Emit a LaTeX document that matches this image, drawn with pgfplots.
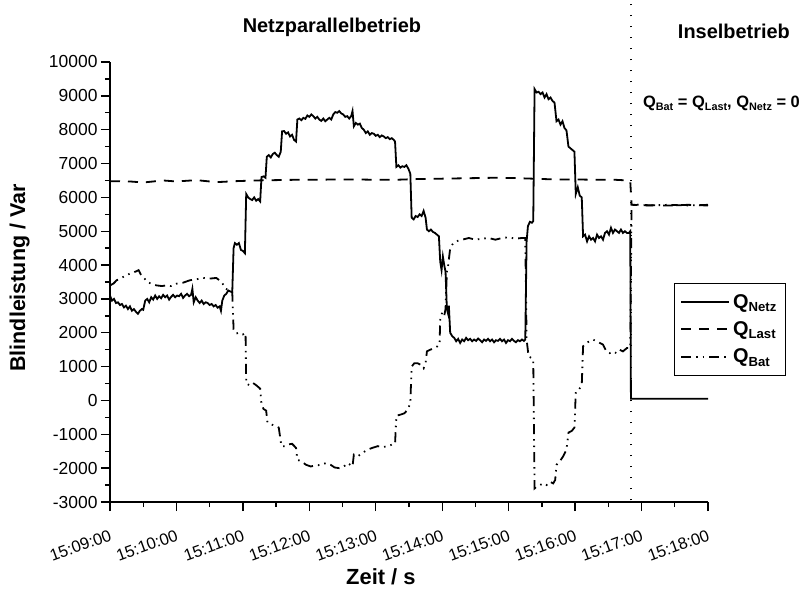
\documentclass[border=0pt]{standalone}
\usepackage{graphicx}
\usepackage{fontspec}
\setmainfont{Liberation Sans}
\usepackage{pgfplots}
\pgfplotsset{compat=1.18}

\newcommand{\Q}[1]{Q\raisebox{-0.32ex}{\scalebox{0.66}{#1}}}
\pgfplotsset{
  longline/.style={legend image code/.code={\draw[##1] (0bp,0bp) -- (48bp,0bp);}},
}

\begin{document}
\begin{tikzpicture}
\begin{axis}[
    scale only axis,
    width=598bp, height=440bp,
    at={(0,0)}, anchor=south west,
    axis x line*=bottom, axis y line*=left,
    axis line style={line width=1.6bp},
    xmin=0, xmax=9, ymin=-3000, ymax=10000,
    xtick={0,1,...,9},
    xticklabels={15:09:00,15:10:00,15:11:00,15:12:00,15:13:00,15:14:00,15:15:00,15:16:00,15:17:00,15:18:00},
    ytick={-3000,-2000,...,10000},
    scaled y ticks=false,
    minor x tick num=1, minor y tick num=1,
    tick align=outside,
    major tick length=9bp, minor tick length=5bp,
    tick style={line width=1.4bp, black},
    /pgf/number format/assume math mode=true,
    /pgf/number format/1000 sep={},
    yticklabel style={font=\fontsize{17.5}{20}\selectfont},
    xticklabel style={font=\fontsize{16.5}{18}\selectfont, rotate=20, anchor=north east, yshift=-13bp, xshift=-4bp},
    xlabel={\textbf{Zeit / s}},
    ylabel={\textbf{Blindleistung / Var}},
    xlabel style={font=\fontsize{22}{24}\selectfont, at={(axis description cs:0.453,-0.170)}, anchor=center},
    ylabel style={font=\fontsize{21.5}{24}\selectfont, at={(axis description cs:-0.151,0.509)}, anchor=center, rotate=0},
    clip=false,
    longline,
    legend style={at={(rel axis cs:0.943,0.498)}, anchor=north west,
        draw=black, line width=0.8bp, fill=white,
        font=\fontsize{20}{22}\selectfont\bfseries,
        row sep=8bp, inner xsep=6bp, inner ysep=9bp,
        nodes={inner xsep=3bp}},
    legend cell align=left,
]

% Q_Netz
\addplot[black, line width=1.8bp] coordinates {
(0,3100)(0.03,2950)(0.06,3000)(0.09,2880)(0.12,2900)(0.15,2820)(0.18,2850)(0.21,2750)(0.24,2800)(0.27,2700)
(0.3,2780)(0.33,2650)(0.36,2700)(0.39,2620)(0.42,2560)(0.45,2650)(0.48,2700)(0.5,2680)(0.53,2950)(0.56,3000)
(0.59,2900)(0.62,3050)(0.65,2980)(0.68,3100)(0.71,3000)(0.74,3080)(0.77,3020)(0.8,3120)(0.83,3050)(0.86,3100)
(0.89,2980)(0.92,3060)(0.95,3120)(0.98,3050)(1.01,3100)(1.04,3080)(1.07,3150)(1.1,3030)(1.13,3100)(1.16,3150)
(1.19,3080)(1.22,3120)(1.24,3300)(1.26,2900)(1.29,3050)(1.32,2950)(1.35,2880)(1.38,2950)(1.41,2850)(1.44,2900)
(1.47,2880)(1.5,2820)(1.53,2850)(1.56,2780)(1.59,2820)(1.62,2740)(1.65,2780)(1.67,2650)(1.69,2950)(1.72,3100)
(1.75,3150)(1.78,3250)(1.81,3220)(1.84,3200)(1.86,4500)(1.88,4650)(1.91,4600)(1.94,4650)(1.97,4450)(2.0,4420)
(2.03,4350)(2.05,6100)(2.08,6000)(2.11,5950)(2.14,5920)(2.17,6000)(2.2,5900)(2.23,5950)(2.26,5880)(2.28,6600)
(2.31,6620)(2.34,6580)(2.36,7200)(2.39,7250)(2.42,7180)(2.45,7280)(2.48,7320)(2.51,7250)(2.54,7200)(2.57,7350)
(2.59,7950)(2.62,7960)(2.65,7880)(2.68,7920)(2.71,7800)(2.74,7850)(2.77,7700)(2.8,7650)(2.82,8300)(2.85,8330)
(2.88,8280)(2.91,8350)(2.94,8320)(2.97,8420)(3.0,8380)(3.03,8450)(3.06,8400)(3.09,8330)(3.12,8380)(3.15,8300)
(3.18,8260)(3.21,8330)(3.24,8250)(3.27,8300)(3.3,8350)(3.33,8300)(3.36,8450)(3.39,8520)(3.42,8500)(3.45,8550)
(3.48,8480)(3.51,8450)(3.54,8380)(3.57,8400)(3.6,8330)(3.63,8400)(3.65,8550)(3.67,8100)(3.7,8200)(3.73,8150)
(3.76,8180)(3.79,8050)(3.82,8000)(3.85,7900)(3.88,7950)(3.91,7850)(3.94,7900)(3.97,7880)(4.0,7820)(4.03,7850)
(4.06,7780)(4.09,7830)(4.12,7800)(4.15,7750)(4.18,7780)(4.21,7720)(4.24,7750)(4.27,7700)(4.29,7650)(4.31,6900)
(4.34,6950)(4.37,6880)(4.4,6920)(4.43,6900)(4.46,6950)(4.49,6850)(4.52,6700)(4.54,5400)(4.57,5350)(4.6,5450)
(4.63,5420)(4.66,5500)(4.69,5450)(4.72,5600)(4.75,5400)(4.77,5050)(4.8,5000)(4.83,5050)(4.86,4980)(4.89,4950)
(4.92,4900)(4.95,4850)(4.97,4100)(4.99,3850)(5.01,4250)(5.03,4000)(5.05,3800)(5.07,2700)(5.09,2550)(5.1,2800)
(5.12,2000)(5.15,1900)(5.18,1850)(5.21,1750)(5.24,1820)(5.27,1700)(5.3,1800)(5.33,1750)(5.36,1850)(5.39,1780)
(5.42,1820)(5.45,1750)(5.48,1800)(5.51,1760)(5.54,1830)(5.57,1780)(5.6,1720)(5.63,1800)(5.66,1760)(5.69,1820)
(5.72,1750)(5.75,1800)(5.78,1720)(5.81,1780)(5.84,1760)(5.87,1820)(5.9,1750)(5.93,1800)(5.96,1700)(5.99,1780)
(6.02,1750)(6.05,1820)(6.08,1760)(6.11,1720)(6.14,1780)(6.17,1750)(6.2,1800)(6.23,1760)(6.25,1800)(6.27,4700)
(6.29,5150)(6.32,5280)(6.35,5250)(6.37,5300)(6.39,9200)(6.42,9100)(6.45,9120)(6.48,9050)(6.51,9100)(6.54,8950)
(6.57,9050)(6.6,8900)(6.63,8950)(6.66,8850)(6.69,8800)(6.72,8250)(6.75,8300)(6.78,8150)(6.81,8250)(6.84,8050)
(6.87,7980)(6.9,7500)(6.93,7450)(6.96,7400)(6.99,7350)(7.01,6100)(7.04,6300)(7.07,6050)(7.1,6000)(7.12,4850)
(7.15,4900)(7.18,4700)(7.21,4850)(7.24,4750)(7.27,4800)(7.3,4700)(7.33,4900)(7.36,4800)(7.39,4850)(7.42,4750)
(7.45,4950)(7.48,5000)(7.51,4900)(7.54,5100)(7.57,4950)(7.6,5050)(7.63,5000)(7.66,4950)(7.69,5050)(7.72,4950)
(7.75,5000)(7.78,4950)(7.81,4950)(7.83,5000)(7.84,50)(9,50)
};
\addlegendentry{\Q{Netz}}

% Q_Last
\addplot[black, line width=1.8bp, dash pattern=on 10bp off 8bp] coordinates {
(0,6480)(0.3,6470)(0.5,6440)(0.8,6500)(1.0,6470)(1.3,6510)(1.6,6450)(1.9,6480)(2.2,6500)(2.5,6510)
(2.8,6520)(3.1,6520)(3.4,6530)(3.7,6530)(4.0,6520)(4.3,6520)(4.6,6540)(4.9,6550)(5.2,6560)(5.5,6570)
(5.8,6580)(6.1,6570)(6.4,6550)(6.7,6530)(7.0,6530)(7.3,6520)(7.6,6520)(7.8,6500)(7.83,6480)(7.85,5780)
(8.1,5770)(8.4,5760)(8.7,5780)(9,5760)
};
\addlegendentry{\Q{Last}}

% Q_Bat
\addplot[black, line width=1.8bp, dash pattern=on 10bp off 5bp on 1.5bp off 5bp on 1.5bp off 5bp] coordinates {
(0,3400)(0.05,3450)(0.1,3550)(0.15,3600)(0.2,3650)(0.25,3700)(0.3,3750)(0.35,3780)(0.4,3820)(0.43,3850)
(0.47,3700)(0.52,3600)(0.56,3500)(0.62,3450)(0.7,3400)(0.78,3380)(0.85,3400)(0.92,3380)(1.0,3450)(1.1,3480)
(1.2,3550)(1.3,3580)(1.4,3620)(1.5,3600)(1.6,3620)(1.68,3500)(1.74,3300)(1.8,3250)(1.84,3200)(1.86,2100)
(1.9,1980)(1.95,2000)(2.0,1950)(2.04,2000)(2.05,500)(2.1,450)(2.15,520)(2.2,450)(2.26,350)(2.28,-100)
(2.31,-250)(2.35,-300)(2.37,-650)(2.42,-700)(2.48,-750)(2.54,-800)(2.58,-1350)(2.63,-1350)(2.68,-1300)(2.74,-1280)
(2.8,-1400)(2.82,-1750)(2.88,-1800)(2.95,-1900)(3.02,-1950)(3.1,-1920)(3.18,-1900)(3.25,-1850)(3.32,-1900)(3.38,-1980)
(3.45,-2000)(3.52,-1950)(3.58,-1850)(3.65,-1950)(3.67,-1600)(3.73,-1650)(3.8,-1550)(3.88,-1450)(3.95,-1400)(4.03,-1350)
(4.1,-1380)(4.18,-1350)(4.25,-1300)(4.29,-1280)(4.31,-450)(4.37,-420)(4.43,-380)(4.49,-250)(4.52,-50)(4.54,1000)
(4.58,1100)(4.63,1100)(4.68,1050)(4.72,950)(4.75,1100)(4.77,1450)(4.82,1500)(4.88,1550)(4.93,1600)(4.96,1650)
(4.97,2400)(5.0,2600)(5.03,2500)(5.05,2700)(5.07,3800)(5.09,4000)(5.12,4500)(5.15,4600)(5.2,4700)(5.3,4750)
(5.4,4800)(5.5,4750)(5.6,4780)(5.7,4800)(5.8,4750)(5.9,4800)(6.0,4820)(6.1,4780)(6.2,4800)(6.25,4800)
(6.27,1800)(6.3,1300)(6.35,1250)(6.37,1200)(6.39,-2600)(6.42,-2550)(6.47,-2500)(6.52,-2450)(6.57,-2500)(6.62,-2400)
(6.67,-2450)(6.7,-2350)(6.72,-1900)(6.77,-1800)(6.82,-1650)(6.87,-1450)(6.9,-950)(6.95,-900)(6.99,-800)(7.01,250)
(7.05,300)(7.1,450)(7.12,1600)(7.17,1700)(7.22,1750)(7.27,1800)(7.32,1750)(7.37,1700)(7.42,1650)(7.47,1450)
(7.52,1400)(7.57,1450)(7.62,1400)(7.67,1500)(7.72,1450)(7.78,1550)(7.83,1550)(7.85,5800)(8.1,5760)(8.4,5780)
(8.7,5760)(9,5780)
};
\addlegendentry{\Q{Bat}}

% switch-over marker
\addplot[black, line width=1.5bp, dash pattern=on 1.5bp off 9.5bp, forget plot] coordinates {(7.84,-2950) (7.84,11800)};

\node[font=\fontsize{20}{22}\selectfont\bfseries, anchor=base] at (axis cs:3.34,10874) {Netzparallelbetrieb};
\node[font=\fontsize{20}{22}\selectfont\bfseries, anchor=base] at (axis cs:9.39,10697) {Inselbetrieb};
\node[font=\fontsize{16.5}{18}\selectfont\bfseries, anchor=base west, inner sep=0pt] at (axis cs:8.02,8658)
  {\Q{Bat} = \Q{Last}, \Q{Netz} = 0};
\end{axis}
\pgfresetboundingbox
\path[use as bounding box] (-110bp,-88bp) rectangle (690bp,502bp);
\end{tikzpicture}
\end{document}
